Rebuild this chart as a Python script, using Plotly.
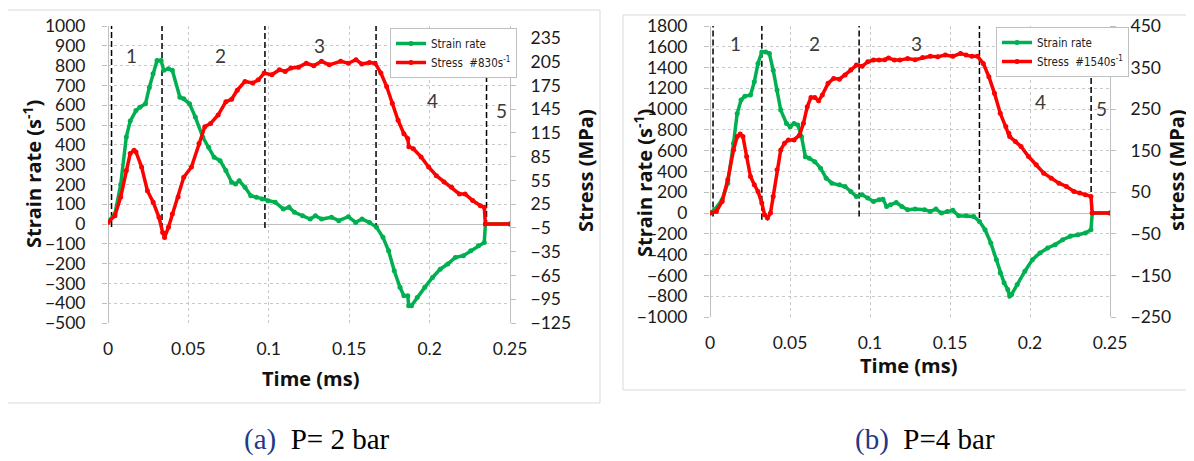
import plotly.graph_objects as go

# ---------------- Data: panel (a) P = 2 bar ----------------
a_sr_t = [0, 0.0043, 0.0079, 0.0114, 0.0138, 0.0174, 0.0198, 0.0233, 0.0257, 0.028, 0.0305, 0.033,
          0.0347, 0.0376, 0.04, 0.0447, 0.0471, 0.0507, 0.0543, 0.059, 0.0626, 0.066, 0.0697, 0.0733,
          0.0769, 0.0793, 0.0816, 0.0852, 0.0888, 0.0923, 0.0959, 0.0995, 0.104, 0.109, 0.1126, 0.116,
          0.121, 0.1257, 0.129, 0.1328, 0.139, 0.1435, 0.1495, 0.154, 0.158, 0.1626, 0.167, 0.171,
          0.1745, 0.178, 0.1816, 0.184, 0.1864, 0.187, 0.1887, 0.1923, 0.197, 0.2018, 0.2066, 0.2113,
          0.216, 0.221, 0.2256, 0.2304, 0.234, 0.2347, 0.25]
a_sr = [13, 50, 200, 440, 520, 573, 590, 607, 690, 759, 826, 826,
        776, 784, 776, 640, 632, 607, 540, 438, 388, 337, 320, 270,
        211, 202, 219, 185, 143, 135, 126, 118, 110, 76, 84, 59,
        42, 25, 42, 25, 34, 17, 37, 8, 25, 8, -17, -67,
        -135, -236, -320, -362, -362, -413, -413, -371, -320, -270, -228, -202,
        -169, -160, -135, -110, -93, 0, 0]

a_st_t = [0, 0.0043, 0.0079, 0.0114, 0.0138, 0.0162, 0.0174, 0.0209, 0.0245, 0.0281, 0.0317, 0.034,
          0.0352, 0.0376, 0.04, 0.0436, 0.0471, 0.0519, 0.0566, 0.0602, 0.0638, 0.0685, 0.0733, 0.0769,
          0.0804, 0.0852, 0.09, 0.0935, 0.0971, 0.1019, 0.1066, 0.1102, 0.1138, 0.1185, 0.1233, 0.128,
          0.1328, 0.1376, 0.1447, 0.1495, 0.1542, 0.1578, 0.1626, 0.1661, 0.1697, 0.1733, 0.1768, 0.1804,
          0.184, 0.1864, 0.1871, 0.1899, 0.1947, 0.1994, 0.2042, 0.209, 0.2137, 0.2185, 0.2221, 0.2268,
          0.2316, 0.234, 0.2347, 0.25]
a_st = [2, 10.5, 34, 67.7, 89, 93, 91, 72, 42, 27.5, 8.4, -10.6,
        -17, -4, 12.7, 34, 59, 72, 101.6, 122.8, 127, 137.6, 154.5, 157.5,
        169, 180, 178, 182, 190.5, 188.4, 194.8, 192.7, 196.9, 198, 203, 199.8,
        205.4, 201, 205.4, 203, 207.5, 202, 204, 203, 190.5, 173.6, 152.4, 131,
        114, 108, 97.4, 95, 84.7, 72, 61, 53, 46.5, 38, 38, 29.6,
        23, 21, 0, 0]

a_bound_t = [0.0022, 0.0336, 0.0976, 0.1667, 0.2354]
a_bound_top = [1000, 1000, 1000, 1000, 760]
a_bound_bot = [-15, -25, -20, -25, -10]
a_region_lbl = ["1", "2", "3", "4", "5"]
a_region_t = [0.0145, 0.0697, 0.1316, 0.2018, 0.2447]
a_region_y = [851, 851, 902, 624, 573]

# ---------------- Data: panel (b) P = 4 bar ----------------
b_sr_t = [0, 0.0028, 0.0076, 0.0111, 0.0147, 0.017, 0.0194, 0.0218, 0.0253, 0.0277, 0.03, 0.0324,
          0.0348, 0.0371, 0.0395, 0.0419, 0.0442, 0.0478, 0.0501, 0.0525, 0.0549, 0.0572, 0.0596, 0.062,
          0.0655, 0.0691, 0.0726, 0.0762, 0.0809, 0.0844, 0.088, 0.0915, 0.0951, 0.0986, 0.1022, 0.1057,
          0.1081, 0.1104, 0.1128, 0.1164, 0.1199, 0.1235, 0.1282, 0.1341, 0.1376, 0.1412, 0.1447, 0.1483,
          0.1518, 0.1554, 0.1601, 0.1648, 0.1684, 0.1719, 0.1755, 0.179, 0.1814, 0.1838, 0.1861, 0.1873,
          0.1885, 0.192, 0.1968, 0.2015, 0.2062, 0.211, 0.2157, 0.2204, 0.2251, 0.2299, 0.2346, 0.2381,
          0.2389, 0.25]
b_sr = [0, 32, 128, 288, 671, 959, 1087, 1125, 1135, 1263, 1439, 1550,
        1550, 1535, 1375, 1183, 991, 863, 831, 863, 847, 735, 543, 527,
        495, 432, 336, 288, 272, 256, 208, 160, 176, 144, 112, 128,
        134, 64, 80, 102, 64, 32, 38, 32, 16, 38, 0, 16,
        26, -26, -26, -32, -80, -160, -288, -448, -575, -671, -735, -799,
        -783, -687, -559, -448, -384, -336, -304, -256, -224, -208, -192, -160,
        0, 0]

b_st_t = [0, 0.004, 0.0076, 0.0111, 0.0147, 0.017, 0.0189, 0.0206, 0.0229, 0.0253, 0.0277, 0.03,
          0.0324, 0.0341, 0.0359, 0.0378, 0.0395, 0.0419, 0.0442, 0.0466, 0.049, 0.0525, 0.056, 0.0584,
          0.0608, 0.0631, 0.0655, 0.0679, 0.0702, 0.0738, 0.0773, 0.0809, 0.0844, 0.088, 0.0915, 0.0951,
          0.0986, 0.1022, 0.1057, 0.1093, 0.1116, 0.1152, 0.1187, 0.1235, 0.1282, 0.1329, 0.1376, 0.1424,
          0.1471, 0.1518, 0.1566, 0.1601, 0.1637, 0.1672, 0.1708, 0.1743, 0.1778, 0.1814, 0.1849, 0.1868,
          0.1873, 0.1909, 0.1944, 0.1991, 0.2039, 0.2086, 0.2133, 0.2181, 0.2228, 0.2275, 0.2311, 0.2346,
          0.2381, 0.2389, 0.25]
b_st = [0, 4, 28, 80, 152, 184, 190, 184, 136, 88, 68, 52,
        24, -4, -12, 0, 40, 104, 152, 168, 176, 176, 188, 216,
        256, 278, 278, 270, 284, 312, 324, 322, 332, 344, 356, 353,
        364, 368, 368, 369, 373, 368, 368, 372, 369, 374, 377, 376,
        380, 377, 384, 380, 377, 377, 360, 328, 288, 240, 208, 192,
        184, 172, 160, 136, 116, 96, 84, 72, 64, 52, 48, 44,
        40, 0, 0]

b_bound_t = [0.0019, 0.0324, 0.0932, 0.1684, 0.2382]
b_bound_top = [1800, 1800, 1800, 1800, 1300]
b_bound_bot = [-32, -64, -32, -48, 30]
b_region_lbl = ["1", "2", "3", "4", "5"]
b_region_t = [0.0158, 0.0655, 0.1289, 0.2067, 0.2445]
b_region_y = [1630, 1630, 1630, 1071, 1007]

# ---------------- Styling ----------------
W, H = 1194, 461
OFF = 8  # page body margin offset
GREEN = "#00B050"
RED = "#FF0000"
GRID = "#C8C8C8"
AXL = "#BFBFBF"
TICKF = dict(family="Lato, 'Open Sans', sans-serif", size=17.5, color="#1A1A1A")
TITLEF = dict(family="'Open Sans', Lato, sans-serif", size=20, color="#111111")
LEGF = dict(family="'Liberation Sans Narrow', 'DejaVu Sans Condensed', 'Roboto Condensed', Roboto, sans-serif",
            size=11.5, color="#222222")


def px_x(p):
    return (p - OFF) / W


def px_y(p):
    return 1 - (p - OFF) / H


fig = go.Figure()


def add_panel(sr_t, sr, st_t, st, bt, btop, bbot, rl, rt, ry, xa, ya, ya2, legend, stress_name):
    for i in range(len(bt)):
        fig.add_trace(go.Scatter(x=[bt[i], bt[i]], y=[bbot[i], btop[i]], mode="lines",
                                 line=dict(color="black", width=1.5, dash="6px,3px"),
                                 xaxis=xa, yaxis=ya, showlegend=False, hoverinfo="skip"))
    fig.add_trace(go.Scatter(x=sr_t, y=sr, mode="lines+markers", name="Strain rate",
                             line=dict(color=GREEN, width=3.5), marker=dict(size=5, color=GREEN),
                             xaxis=xa, yaxis=ya, legend=legend))
    fig.add_trace(go.Scatter(x=st_t, y=st, mode="lines+markers", name=stress_name,
                             line=dict(color=RED, width=3.5), marker=dict(size=5, color=RED),
                             xaxis=xa, yaxis=ya2, legend=legend))
    for lbl, t, y in zip(rl, rt, ry):
        fig.add_annotation(x=t, y=y, xref=xa, yref=ya, text=lbl, showarrow=False,
                           font=dict(family="Lato, sans-serif", size=19, color="#3A3A3A"))


add_panel(a_sr_t, a_sr, a_st_t, a_st, a_bound_t, a_bound_top, a_bound_bot,
          a_region_lbl, a_region_t, a_region_y, "x", "y", "y2", "legend",
          "Stress  #830s<sup>-1</sup>")
add_panel(b_sr_t, b_sr, b_st_t, b_st, b_bound_t, b_bound_top, b_bound_bot,
          b_region_lbl, b_region_t, b_region_y, "x2", "y3", "y4", "legend2",
          "Stress  #1540s<sup>-1</sup>")

xcommon = dict(range=[0, 0.25], dtick=0.05, tick0=0, showgrid=True, gridcolor=GRID, griddash="dot",
               gridwidth=1, zeroline=True, zerolinecolor=AXL, zerolinewidth=1,
               tickfont=TICKF, ticks="", showline=False, automargin=False, ticklabelstandoff=13)
ycommon = dict(showgrid=True, gridcolor=GRID, griddash="dot", gridwidth=1, zeroline=True,
               zerolinecolor=AXL, zerolinewidth=1, tickfont=TICKF, ticks="outside", ticklen=5,
               tickcolor=AXL, showline=False, automargin=False, ticklabelstandoff=13)
y2common = dict(showgrid=False, zeroline=False, tickfont=TICKF, ticks="outside", ticklen=5,
                tickcolor=AXL, showline=True, linecolor=AXL, linewidth=1, automargin=False,
                ticklabelstandoff=11)

fig.update_layout(
    width=W, height=H, autosize=False,
    margin=dict(l=0, r=0, t=0, b=0, pad=0),
    paper_bgcolor="white", plot_bgcolor="white",
    xaxis=dict(domain=[px_x(108), px_x(510)], anchor="y", **xcommon),
    yaxis=dict(domain=[px_y(323), px_y(26)], range=[-500, 1000], dtick=100, tick0=0, anchor="x",
               **ycommon),
    yaxis2=dict(overlaying="y", side="right", anchor="x", range=[-125, 250], tick0=-125, dtick=30,
                **y2common),
    xaxis2=dict(domain=[px_x(710), px_x(1110)], anchor="y3", **xcommon),
    yaxis3=dict(domain=[px_y(317), px_y(26)], range=[-1000, 1800], dtick=200, tick0=0, anchor="x2",
                **ycommon),
    yaxis4=dict(overlaying="y3", side="right", anchor="x2", range=[-250, 450], tick0=-250, dtick=100,
                **y2common),
    legend=dict(x=px_x(390), y=px_y(28), xanchor="left", yanchor="top", bgcolor="white",
                bordercolor=AXL, borderwidth=1, font=LEGF, tracegroupgap=0, itemwidth=30),
    legend2=dict(x=px_x(996), y=px_y(27), xanchor="left", yanchor="top", bgcolor="white",
                 bordercolor=AXL, borderwidth=1, font=LEGF, tracegroupgap=0, itemwidth=30),
)

# chart frames
fig.add_shape(type="rect", xref="paper", yref="paper", x0=px_x(4), x1=px_x(600), y0=px_y(403),
              y1=px_y(10), line=dict(color="#D9D9D9", width=1), layer="below")
fig.add_shape(type="rect", xref="paper", yref="paper", x0=px_x(623), x1=px_x(1205), y0=px_y(390),
              y1=px_y(15), line=dict(color="#D9D9D9", width=1), layer="below")

# axis titles
titles = [
    (32, 174, "Strain rate (s<sup>-1</sup>)", -90),
    (586, 171, "Stress (MPa)", -90),
    (310, 378, "Time (ms)", 0),
    (644, 183, "Strain rate (s<sup>-1</sup>)", -90),
    (1176, 170, "stress (MPa)", -90),
    (908, 365, "Time (ms)", 0),
]
for x, y, txt, ang in titles:
    fig.add_annotation(x=px_x(x), y=px_y(y), xref="paper", yref="paper", text="<b>" + txt + "</b>",
                       textangle=ang, showarrow=False, font=TITLEF, xanchor="center", yanchor="middle")

# captions
CAPF = dict(family="'Liberation Serif', 'DejaVu Serif', serif", size=29, color="black")
fig.add_annotation(x=px_x(317), y=px_y(439), xref="paper", yref="paper", xanchor="center",
                   yanchor="middle", text="<span style='color:#1F3A8A'>(a)</span>  P= 2 bar",
                   showarrow=False, font=CAPF)
fig.add_annotation(x=px_x(925), y=px_y(439), xref="paper", yref="paper", xanchor="center",
                   yanchor="middle", text="<span style='color:#1F3A8A'>(b)</span>  P=4 bar",
                   showarrow=False, font=CAPF)

fig.write_html("out.html")
